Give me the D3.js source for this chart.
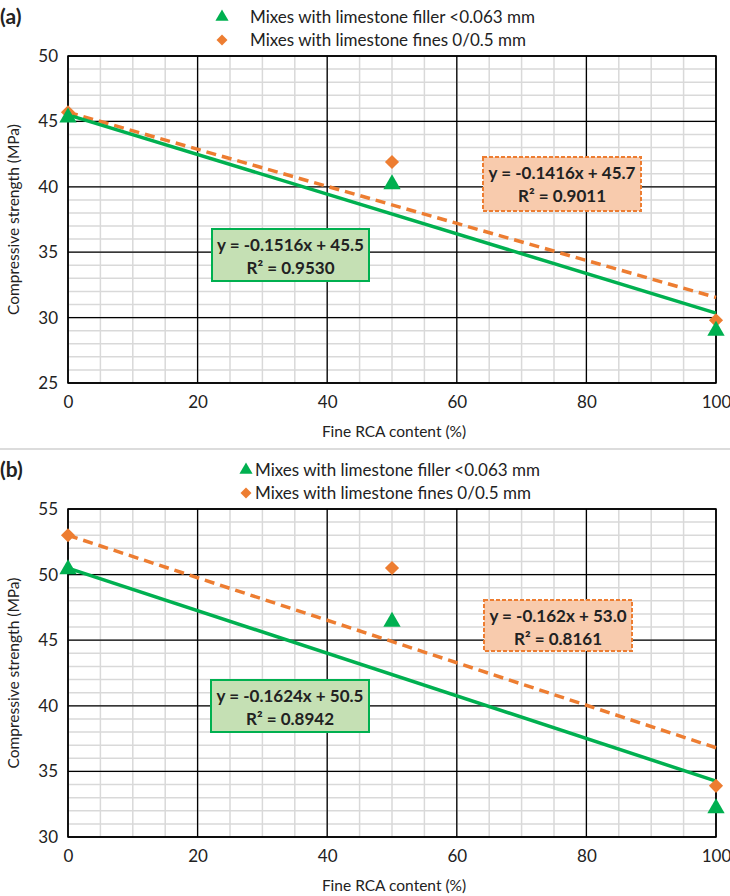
<!DOCTYPE html>
<html>
<head>
<meta charset="utf-8">
<script src="https://cdn.jsdelivr.net/npm/d3@7"></script>
<style>
  body { margin: 0; background: #fff; }
  svg text { font-family: Lato, "Open Sans", sans-serif; fill: #222; }
</style>
</head>
<body>
<div id="chart-area"></div>
<script>
// chart data
var fineRCA = [0, 50, 100];
var fillerA = [45.3, 40.2, 29.0];
var finesA = [45.7, 41.9, 29.8];
var fillerB = [50.4, 46.4, 32.2];
var finesB = [53.0, 50.5, 33.9];

// trendlines: [slope, intercept]
var trendFillerA = [-0.1516, 45.5];
var trendFinesA = [-0.1416, 45.7];
var trendFillerB = [-0.1624, 50.5];
var trendFinesB = [-0.162, 53.0];

var eqFillerA = ["y = -0.1516x + 45.5", "R² = 0.9530"];
var eqFinesA = ["y = -0.1416x + 45.7", "R² = 0.9011"];
var eqFillerB = ["y = -0.1624x + 50.5", "R² = 0.8942"];
var eqFinesB = ["y = -0.162x + 53.0", "R² = 0.8161"];

var xTicks = [0, 20, 40, 60, 80, 100];
var yTicksA = [25, 30, 35, 40, 45, 50];
var yTicksB = [30, 35, 40, 45, 50, 55];

var legendLabels = ["Mixes with limestone filler <0.063 mm", "Mixes with limestone fines 0/0.5 mm"];

var green = "#00B050", orange = "#ED7D31";

var svg = d3.select("#chart-area").append("svg")
    .attr("width", 730)
    .attr("height", 896);

// separator between panels
svg.append("line")
    .attr("x1", 0).attr("x2", 730)
    .attr("y1", 449).attr("y2", 449)
    .attr("stroke", "#d0d0d0").attr("stroke-width", 1.5);

function drawPanel(p) {
    var g = svg.append("g");
    var x = d3.scaleLinear().domain([0, 100]).range([68, 716]);
    var y = d3.scaleLinear().domain(p.yDomain).range([p.bottom, p.top]);

    // minor grid
    g.selectAll(".vminor").data(d3.range(0, 101, 5)).enter()
        .append("line")
        .attr("x1", d => x(d)).attr("x2", d => x(d))
        .attr("y1", p.top).attr("y2", p.bottom)
        .attr("stroke", "#d9d9d9").attr("stroke-width", 1.5);
    g.selectAll(".hminor").data(d3.range(p.yDomain[0], p.yDomain[1] + 1, 1)).enter()
        .append("line")
        .attr("x1", 68).attr("x2", 716)
        .attr("y1", d => y(d)).attr("y2", d => y(d))
        .attr("stroke", "#d9d9d9").attr("stroke-width", 1.5);

    // major grid
    g.selectAll(".vmajor").data(xTicks).enter()
        .append("line")
        .attr("x1", d => x(d)).attr("x2", d => x(d))
        .attr("y1", p.top).attr("y2", p.bottom)
        .attr("stroke", "#000").attr("stroke-width", 1.3);
    g.selectAll(".hmajor").data(p.yTicks).enter()
        .append("line")
        .attr("x1", 68).attr("x2", 716)
        .attr("y1", d => y(d)).attr("y2", d => y(d))
        .attr("stroke", "#000").attr("stroke-width", 1.3);
    g.append("rect")
        .attr("x", 68).attr("y", p.top)
        .attr("width", 648).attr("height", p.bottom - p.top)
        .attr("fill", "none").attr("stroke", "#000").attr("stroke-width", 1.5);

    // axes labels
    var xAxis = g.append("g")
        .attr("transform", "translate(0," + (p.bottom + 13) + ")")
        .call(d3.axisBottom(x).tickValues(xTicks).tickSize(0).tickPadding(0));
    xAxis.select(".domain").remove();
    xAxis.selectAll("text").attr("font-size", 17).attr("font-family", "Lato").attr("fill", "#222");

    var yAxis = g.append("g")
        .attr("transform", "translate(58,0)")
        .call(d3.axisLeft(y).tickValues(p.yTicks).tickSize(0).tickPadding(0));
    yAxis.select(".domain").remove();
    yAxis.selectAll("text").attr("font-size", 17).attr("font-family", "Lato").attr("fill", "#222");

    g.append("text")
        .attr("x", 394).attr("y", p.bottom + 54)
        .attr("text-anchor", "middle").attr("font-size", 15.5)
        .text("Fine RCA content (%)");
    g.append("text")
        .attr("transform", "translate(19," + ((p.top + p.bottom) / 2) + ") rotate(-90)")
        .attr("text-anchor", "middle").attr("font-size", 15.5)
        .text("Compressive strength (MPa)");

    // panel label
    g.append("text")
        .attr("x", 0).attr("y", p.top - 32)
        .attr("font-size", 21).attr("font-weight", "bold")
        .text(p.label);

    // legend
    var lg = g.append("g");
    lg.append("path")
        .attr("d", d3.symbol(d3.symbolTriangle, 75)())
        .attr("transform", "translate(" + p.legX + "," + (p.top - 39) + ")")
        .attr("fill", green);
    lg.append("path")
        .attr("d", d3.symbol(d3.symbolSquare, 60)())
        .attr("transform", "translate(" + p.legX + "," + (p.top - 16) + ") rotate(45)")
        .attr("fill", orange);
    lg.selectAll(".legtext").data(legendLabels).enter()
        .append("text")
        .attr("x", p.legX + p.legGap)
        .attr("y", (d, i) => p.top - 39 + i * 23 + 6)
        .attr("font-size", 17)
        .text(d => d);

    // trendlines
    var line = d3.line().x(d => x(d[0])).y(d => y(d[1]));
    g.append("path")
        .datum([0, 100].map(v => [v, p.trendFines[0] * v + p.trendFines[1]]))
        .attr("d", line)
        .attr("fill", "none").attr("stroke", orange)
        .attr("stroke-width", 3.5).attr("stroke-dasharray", "10,6");
    g.append("path")
        .datum([0, 100].map(v => [v, p.trendFiller[0] * v + p.trendFiller[1]]))
        .attr("d", line)
        .attr("fill", "none").attr("stroke", green)
        .attr("stroke-width", 3.5);

    // markers
    g.selectAll(".fines").data(p.fines).enter()
        .append("path")
        .attr("d", d3.symbol(d3.symbolSquare, 100)())
        .attr("transform", (d, i) => "translate(" + x(fineRCA[i]) + "," + y(d) + ") rotate(45)")
        .attr("fill", orange);
    g.selectAll(".filler").data(p.filler).enter()
        .append("path")
        .attr("d", d3.symbol(d3.symbolTriangle, 130)())
        .attr("transform", (d, i) => "translate(" + x(fineRCA[i]) + "," + y(d) + ")")
        .attr("fill", green);

    // equation boxes
    function eqBox(b, lines, fill, stroke, dashed) {
        g.append("rect")
            .attr("x", b[0]).attr("y", b[1])
            .attr("width", b[2]).attr("height", b[3])
            .attr("fill", fill).attr("stroke", stroke)
            .attr("stroke-width", 2)
            .attr("stroke-dasharray", dashed ? "4,2" : null);
        g.selectAll(null).data(lines).enter()
            .append("text")
            .attr("x", b[0] + b[2] / 2)
            .attr("y", (d, i) => b[1] + 22 + i * 23)
            .attr("text-anchor", "middle")
            .attr("font-size", 17).attr("font-weight", "bold")
            .text(d => d);
    }
    eqBox(p.boxFiller, p.eqFiller, "#C5E0B4", green, false);
    eqBox(p.boxFines, p.eqFines, "#F8CBAD", orange, true);
}

drawPanel({
    label: "(a)", top: 56, bottom: 383, yDomain: [25, 50], yTicks: yTicksA,
    filler: fillerA, fines: finesA, trendFiller: trendFillerA, trendFines: trendFinesA,
    eqFiller: eqFillerA, eqFines: eqFinesA,
    boxFiller: [212, 229, 157, 52], boxFines: [483, 157, 158, 54],
    legX: 222, legGap: 28
});

drawPanel({
    label: "(b)", top: 509, bottom: 837, yDomain: [30, 55], yTicks: yTicksB,
    filler: fillerB, fines: finesB, trendFiller: trendFillerB, trendFines: trendFinesB,
    eqFiller: eqFillerB, eqFines: eqFinesB,
    boxFiller: [211, 680, 158, 52], boxFines: [484, 600, 148, 51],
    legX: 246, legGap: 9
});
</script>
</body>
</html>
